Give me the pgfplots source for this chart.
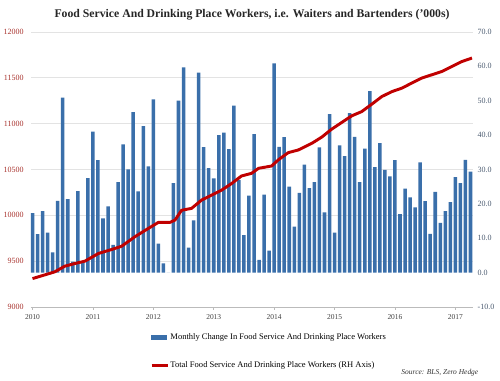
\documentclass[border=0pt]{standalone}
\usepackage{fontspec}
\setmainfont{Liberation Serif}
\usepackage{pgfplots}
\pgfplotsset{compat=1.18}
\definecolor{barblue}{HTML}{3A6FAA}
\definecolor{linered}{HTML}{C00000}
\definecolor{leftlab}{HTML}{A8322D}
\definecolor{rightlab}{HTML}{4B5B70}
\definecolor{gridgray}{HTML}{E3E3E3}
\definecolor{ticklab}{HTML}{404040}

\begin{document}
\begin{tikzpicture}
\path[use as bounding box] (-23.25pt,-55.5pt) rectangle (351.75pt,230.25pt);
\pgfplotsset{
  base/.style={
    scale only axis, width=331.5pt, height=206.25pt,
    xmin=-0.3, xmax=87.5,
    /pgf/number format/assume math mode=true,
  }
}
% axis 1: left scale, grid, x ticks
\begin{axis}[base,
  ymin=9000, ymax=12000, ytick={9000,9500,...,12000},
  scaled y ticks=false,
  axis y line*=left, axis x line*=bottom,
  y axis line style={draw=none},
  x axis line style={-, draw=gridgray!60!gray, line width=0.6pt},
  ymajorgrids, grid style={gridgray, line width=0.5pt},
  ytick style={draw=none},
  xtick={0,12,...,84}, xticklabels={2010,2011,2012,2013,2014,2015,2016,2017},
  xtick style={draw=gridgray!60!gray, line width=0.5pt},
  tick align=outside, major tick length=2pt,
  yticklabel style={font=\fontsize{6}{7}\selectfont, text=leftlab,
    /pgf/number format/.cd, fixed, 1000 sep={}},
  xticklabel style={font=\fontsize{5.6}{7}\selectfont, text=ticklab},
  title={Food Service And Drinking Place Workers, i.e. Waiters and Bartenders ('000s)},
  title style={font=\bfseries\fontsize{8.8}{10}\selectfont, anchor=base, at={(0.5,1)}, yshift=4.5pt, text=black!85},
]
\addplot[draw=none] coordinates {(0,9000)};
\end{axis}
% axis 2: right scale, bars
\begin{axis}[base,
  ymin=-10, ymax=70, ytick={-10,0,...,70},
  axis y line*=right, axis x line=none,
  y axis line style={draw=none}, ytick style={draw=none},
  yticklabel style={font=\fontsize{6}{7}\selectfont, text=rightlab,
    /pgf/number format/.cd, fixed, fixed zerofill, precision=1},
]
\addplot[ybar, bar width=0.7, fill=barblue, draw=none] coordinates {
(0,17.3) (1,11.2) (2,17.9) (3,11.6) (4,5.9) (5,20.9) (6,50.9) (7,21.4) (8,3.2) (9,23.7) (10,2.8) (11,27.5)
(12,41.0) (13,32.7) (14,15.8) (15,19.3) (16,8.1) (17,26.3) (18,37.3) (19,30.0) (20,46.7) (21,23.6) (22,42.6) (23,30.9)
(24,50.4) (25,8.4) (26,2.7) (27,0) (28,26.0) (29,50.0) (30,59.7) (31,7.3) (32,15.2) (33,58.2) (34,36.5) (35,30.4)
(36,27.4) (37,40.0) (38,40.7) (39,35.9) (40,48.6) (41,27.0) (42,10.9) (43,22.4) (44,40.3) (45,3.7) (46,22.7) (47,6.4)
(48,60.9) (49,36.6) (50,39.4) (51,25.0) (52,13.4) (53,23.2) (54,31.4) (55,24.6) (56,26.3) (57,36.4) (58,17.5) (59,46.1)
(60,11.6) (61,37.0) (62,33.9) (63,46.4) (64,39.5) (65,26.3) (66,36.1) (67,52.8) (68,30.7) (69,37.7) (70,29.9) (71,28.0)
(72,32.7) (73,17.0) (74,24.4) (75,21.9) (76,19.0) (77,32.1) (78,20.8) (79,11.3) (80,23.5) (81,14.5) (82,17.9) (83,20.5)
(84,27.8) (85,26.0) (86,32.8) (87,29.4)
};
\end{axis}
% axis 3: left scale, red line, legend
\begin{axis}[base, name=ax3,
  ymin=9000, ymax=12000,
  axis lines=none, xtick=\empty, ytick=\empty,
  legend style={at={(0.269,-0.09)}, anchor=north west, draw=none, fill=none,
    font=\fontsize{6.4}{7.5}\selectfont, row sep=13.5pt, inner sep=0pt,
    nodes={inner sep=1pt}},
  legend cell align=left,
]
\addlegendimage{legend image code/.code={\fill[barblue] (0pt,-1.6pt) rectangle (11pt,1.6pt);}}
\addlegendentry{Monthly Change In Food Service And Drinking Place Workers}
\addplot[linered, line width=2.2pt, line join=round,
  legend image code/.code={\draw[linered, line width=2.2pt] (0pt,0pt) -- (12pt,0pt);}]
coordinates {
(0,9310) (4.4,9383) (6.4,9445) (8.4,9474) (10.4,9500) (13.1,9584) (15.7,9627) (17.7,9663)
(20.3,9765) (23.0,9857) (25.0,9923) (27.3,9923) (28.3,9948) (29.6,10055) (31.6,10076) (33.6,10167)
(35.6,10221) (37.6,10276) (39.6,10349) (41.5,10429) (43.5,10458) (44.9,10513) (47.5,10538) (48.8,10604)
(50.8,10684) (52.8,10713) (55.5,10786) (57.5,10855) (59.4,10939) (61.4,11012) (63.4,11085) (65.4,11132)
(67.4,11213) (69.4,11296) (71.4,11350) (73.4,11388) (75.3,11442) (77.3,11497) (79.3,11533) (81.3,11569)
(83.3,11624) (85.3,11678) (87.3,11716)
};
\addlegendentry{Total Food Service And Drinking Place Workers (RH Axis)}
\end{axis}
\node[anchor=east, font=\itshape\fontsize{5.6}{7}\selectfont, text=black!80, xshift=7.5pt, yshift=-49pt] at (ax3.south east) {Source: BLS, Zero Hedge};
\end{tikzpicture}
\end{document}
